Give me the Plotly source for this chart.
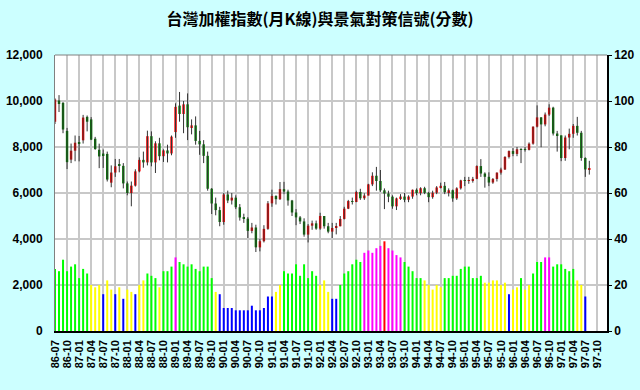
import plotly.graph_objects as go

# ---------------- data ----------------
tick_labels = ["86-07", "86-10", "87-01", "87-04", "87-07", "87-10", "88-01", "88-04",
               "88-07", "88-10", "89-01", "89-04", "89-07", "89-10", "90-01", "90-04",
               "90-07", "90-10", "91-01", "91-04", "91-07", "91-10", "92-01", "92-04",
               "92-07", "92-10", "93-01", "93-04", "93-07", "93-10", "94-01", "94-04",
               "94-07", "94-10", "95-01", "95-04", "95-07", "95-10", "96-01", "96-04",
               "96-07", "96-10", "97-01", "97-04", "97-07", "97-10"]

opens = [9100, 10020, 9920, 8700, 7450, 7840, 8190, 8290, 9310, 9200, 8360, 7880, 7715, 7700,
         6450, 6890, 7250, 7180, 6418, 6000, 6320, 6940, 7440, 7330, 8470, 7330, 8160, 7600,
         7850, 7720, 8650, 9800, 9436, 9855, 8860, 8940, 8265, 8115, 7616, 6185, 5544, 5257,
         4739, 5936, 5675, 5797, 5381, 4935, 4883, 4352, 4500, 3636, 3903, 4441, 5551, 5872,
         5730, 6167, 6065, 5675, 5153, 4940, 4764, 4191, 4579, 4681, 4452, 5000, 4555, 4321,
         4480, 4555, 4872, 5318, 5650, 5611, 6045, 5771, 5890, 6375, 6750, 6522, 6117, 5977,
         5840, 5420, 5766, 5845, 5706, 5845, 6140, 5995, 6208, 6006, 5819, 6012, 6242, 6312,
         6033, 6119, 5765, 6203, 6548, 6533, 6562, 6614, 7171, 6847, 6704, 6455, 6611, 6884,
         7022, 7567, 7824, 7700, 7902, 7884, 7875, 8145, 8883, 9288, 8982, 9411, 9711, 8586,
         8506, 7522, 8413, 8573, 8920, 8619, 7524, 7024]
highs = [10116, 10256, 9950, 8830, 8150, 8500, 8480, 9396, 9370, 9300, 8440, 8145, 7890, 7800,
         7200, 7480, 7480, 7300, 6500, 6500, 7030, 7550, 7800, 8710, 8680, 8250, 8400, 7900,
         8100, 8500, 9900, 10393, 10000, 10330, 9200, 9330, 8700, 8300, 7800, 6215, 5800, 5400,
         6000, 6104, 6000, 5900, 5520, 5100, 4950, 4700, 4622, 4010, 4600, 5650, 6144, 5900,
         6477, 6484, 6144, 5700, 5300, 5000, 4900, 4650, 4800, 4800, 5140, 5000, 4700, 4700,
         4700, 5000, 5400, 5700, 5800, 6100, 6182, 5990, 6400, 6900, 7135, 7000, 6200, 6100,
         5900, 5800, 5950, 6000, 5900, 6150, 6200, 6250, 6270, 6050, 6100, 6300, 6450, 6480,
         6200, 6150, 6250, 6575, 6700, 6700, 6700, 7200, 7474, 6900, 6900, 6650, 6900, 7100,
         7600, 7850, 7950, 8000, 7950, 8000, 8200, 8900, 9810, 9300, 9500, 9859, 9750, 8700,
         8500, 8500, 8800, 9000, 9309, 8700, 7550, 7400]
lows = [9000, 9520, 8600, 7040, 7300, 7380, 7375, 8150, 8680, 8300, 7880, 7080, 7090, 6500,
        6250, 6700, 6900, 6200, 5900, 5422, 6280, 6900, 7100, 7200, 7160, 6870, 7420, 7350,
        7330, 7640, 8400, 9100, 8600, 8300, 8550, 8100, 7660, 7300, 6100, 5086, 5030, 4555,
        4620, 5560, 5500, 5300, 4800, 4700, 4043, 4250, 3434, 3463, 3850, 4400, 5400, 5500,
        5700, 5950, 5450, 5000, 4600, 4650, 4100, 3850, 4400, 4400, 4400, 4450, 4250, 4044,
        4200, 4550, 4850, 5300, 5500, 5600, 5700, 5700, 5890, 6300, 6100, 6050, 5300, 5600,
        5316, 5260, 5700, 5600, 5600, 5750, 5900, 5900, 5950, 5600, 5750, 5950, 6200, 5950,
        5850, 5620, 5700, 6150, 6300, 6400, 6450, 6600, 6700, 6232, 6300, 6400, 6500, 6800,
        7000, 7500, 7600, 7600, 7300, 7800, 7850, 8100, 8850, 7990, 8900, 9350, 8500, 7800,
        7384, 7400, 7900, 8400, 8500, 7400, 6700, 6800]
closes = [10066, 9870, 8760, 7340, 7840, 8187, 8150, 9280, 9100, 8320, 7910, 7590, 7630, 6585,
          6890, 7160, 7180, 6418, 5998, 6320, 6940, 7440, 7330, 8470, 7330, 8160, 7600, 7850,
          7720, 8450, 9745, 9436, 9855, 8860, 8940, 8265, 8115, 7616, 6185, 5544, 5257, 4739,
          5936, 5675, 5797, 5381, 4935, 4883, 4352, 4500, 3636, 3903, 4441, 5551, 5872, 5730,
          6167, 6065, 5675, 5153, 4940, 4764, 4191, 4579, 4681, 4452, 5000, 4555, 4321, 4480,
          4555, 4872, 5318, 5650, 5611, 6045, 5771, 5890, 6375, 6750, 6522, 6117, 5977, 5840,
          5420, 5766, 5845, 5706, 5845, 6140, 5995, 6208, 6006, 5819, 6012, 6242, 6312, 6033,
          6119, 5765, 6203, 6548, 6533, 6562, 6614, 7171, 6847, 6704, 6455, 6611, 6884, 7022,
          7567, 7824, 7700, 7902, 7884, 7875, 8145, 8883, 9288, 8982, 9411, 9711, 8586, 8506,
          7522, 8413, 8573, 8920, 8619, 7524, 7024, 7046]

scores = [27, 26, 31, 26, 28, 29, 23, 27, 25, 20, 19, 20, 16, 22, 18, 16, 19, 14, 18, 17, 16, 20, 22,
          25, 24, 23, 19, 26, 26, 28, 32, 30, 29, 28, 29, 27, 26, 28, 28, 23,
          17, 16, 10, 10, 10, 9, 9, 9, 9, 11, 9, 9, 10, 15, 15, 17, 20, 26, 25, 25,
          29, 24, 29, 23, 26, 24, 20, 22, 17, 14, 14, 20, 25, 26, 29, 31, 30, 34, 35, 34,
          36, 37, 39, 36, 35, 33, 32, 30, 28, 26, 23, 23, 22, 20, 18, 20, 19, 23, 23, 24,
          24, 27, 28, 28, 23, 23, 24, 21, 21, 22, 22, 20, 21, 16, 18, 19, 23, 18, 20, 25,
          30, 30, 32, 32, 28, 29, 29, 27, 26, 27, 22, 20, 15]
# signal light of each month: G green, Y yellow-blue, B blue, M yellow-red, R red
lights = list("GGGGGGGGGYYYBYYBYBYYBYY" "GGGYGGGMGGGGGGGGG" "YBBBBBBBBBBBBBBYY"
              "GGGGGGGGGYYYBBGGGGGG" "MMMMMRMMMMGGGGG" "YYYYYGGGGGGGGGGYYYYYY"
              "BYYGYYGGGMMGGGGGGYYB")

# ---------------- styling ----------------
light_color = {"G": "#00FF00", "Y": "#FFFF00", "B": "#0000FF", "M": "#FF00FF", "R": "#FF0000"}
UP, DOWN, WICK = "#FF0000", "#008000", "#333333"
GRID = "#C8C8C8"

k_x = list(range(len(closes)))
s_x = list(range(len(scores)))

fig = go.Figure()

# signal score bars (right axis)
fig.add_trace(go.Bar(
    x=s_x, y=scores, yaxis="y2", width=0.5,
    marker=dict(color=[light_color[c] for c in lights], line=dict(width=0)),
    hoverinfo="skip"))

# candle wicks
wx, wy = [], []
for i in k_x:
    wx += [i, i, None]
    wy += [lows[i], highs[i], None]
fig.add_trace(go.Scatter(x=wx, y=wy, mode="lines", line=dict(color=WICK, width=1),
                         hoverinfo="skip"))

# candle bodies
fig.add_trace(go.Bar(
    x=k_x,
    y=[max(abs(c - o), 25) for o, c in zip(opens, closes)],
    base=[min(o, c) for o, c in zip(opens, closes)],
    width=0.6,
    marker=dict(color=[UP if c >= o else DOWN for o, c in zip(opens, closes)],
                line=dict(width=0)),
    hoverinfo="skip"))

font_axis = dict(family="Liberation Sans, Arial", size=12, color="black", weight="bold")

fig.update_layout(
    width=640, height=390,
    margin=dict(l=55, r=33, t=55, b=59, autoexpand=False),
    paper_bgcolor="#CCFFFF", plot_bgcolor="white",
    showlegend=False, barmode="overlay",
    title=dict(text="台灣加權指數(月K線)與景氣對策信號(分數)",
               x=0.5, xanchor="center", xref="container",
               y=1 - 19 / 390, yanchor="middle", yref="container",
               font=dict(family="Noto Sans CJK TC", size=16, color="black", weight="bold")),
    xaxis=dict(range=[0, 137.4], tickmode="array", automargin=False,
               tickvals=list(range(0, 3 * len(tick_labels), 3)), ticktext=tick_labels,
               tickangle=-90, ticks="outside", ticklen=3, tickcolor="rgba(0,0,0,0)",
               tickfont=dict(family="Liberation Sans, Arial", size=11, color="black",
                             weight="bold"),
               showgrid=True, gridcolor=GRID, gridwidth=2,
               showline=True, linecolor="black", linewidth=1.5, zeroline=False),
    yaxis=dict(range=[0, 12000], tickmode="array", automargin=False,
               tickvals=[0, 2000, 4000, 6000, 8000, 10000, 12000],
               ticktext=["0", "2,000", "4,000", "6,000", "8,000", "10,000", "12,000"],
               ticks="outside", ticklen=9, tickcolor="rgba(0,0,0,0)", tickfont=font_axis,
               showgrid=True, gridcolor=GRID, gridwidth=2,
               showline=True, linecolor="#808080", linewidth=1, zeroline=False),
    yaxis2=dict(range=[0, 120], overlaying="y", side="right", tickmode="array",
                automargin=False,
                tickvals=[0, 20, 40, 60, 80, 100, 120],
                ticks="outside", ticklen=3, tickcolor="black", tickwidth=1,
                tickfont=font_axis, showgrid=False,
                showline=True, linecolor="black", linewidth=1.5, zeroline=False),
    shapes=[dict(type="line", xref="paper", yref="paper", x0=0, x1=1, y0=1, y1=1,
                 line=dict(color="#808080", width=1))],
)

fig.write_html("out.html",
               config={"displayModeBar": False},
               post_script="document.body.style.margin='0px';"
                           "document.body.style.background='#CCFFFF';")
